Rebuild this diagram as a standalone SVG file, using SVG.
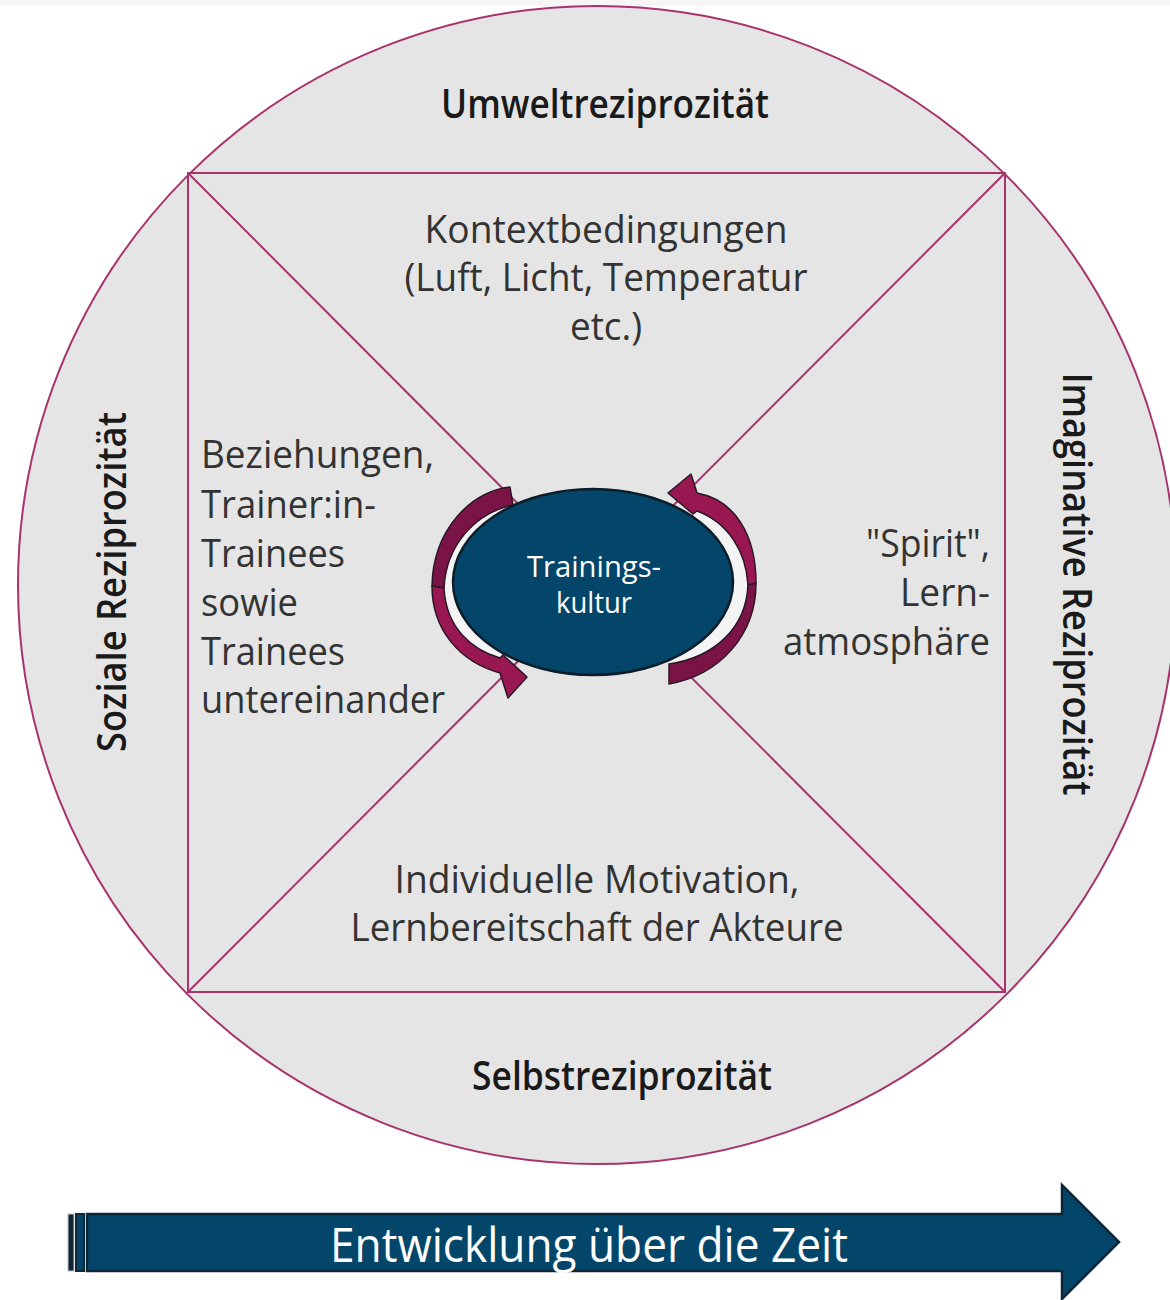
<svg xmlns="http://www.w3.org/2000/svg" width="1170" height="1300" viewBox="0 0 1170 1300">
  <style>
    .ring { fill: #e5e5e5; stroke: #a8336b; stroke-width: 2; }
    .edge { fill: none; stroke: #a8336b; stroke-width: 2; }
    .outer { font-family: "Open Sans", "Noto Sans", "DejaVu Sans", sans-serif; font-weight: 600; font-size: 40px; fill: #1a1a1a; }
    .inner { font-family: "Open Sans", "Noto Sans", "DejaVu Sans", sans-serif; font-weight: 400; font-size: 38px; fill: #333333; }
    .core-text { font-family: "Open Sans", "Noto Sans", "DejaVu Sans", sans-serif; font-weight: 400; font-size: 29px; fill: #ffffff; }
    .time-text { font-family: "Open Sans", "Noto Sans", "DejaVu Sans", sans-serif; font-weight: 400; font-size: 47px; fill: #ffffff; }
    .arc-dark { fill: #7a1346; stroke: #2a1626; stroke-width: 1.5; stroke-linejoin: round; }
    .arc-light { fill: #991852; stroke: #2a1626; stroke-width: 1.5; stroke-linejoin: round; }
    .halo { fill: #f4f4f4; stroke: none; }
    .blue { fill: #03466a; stroke: #0d2739; stroke-width: 2.5; }
  </style>

  <rect x="0" y="0" width="1170" height="1300" fill="#ffffff"/>
  <rect x="0" y="0" width="1170" height="6" fill="#f6f6f6"/>

  <!-- outer circle -->
  <g id="ring">
    <circle class="ring" cx="597" cy="585" r="579"/>
  </g>

  <!-- inner square with its diagonals -->
  <g id="frame">
    <rect class="edge" x="188" y="173" width="817" height="819"/>
    <line class="edge" x1="188" y1="173" x2="1005" y2="992"/>
    <line class="edge" x1="1005" y1="173" x2="188" y2="992"/>
  </g>

  <!-- ring labels -->
  <g id="label-umwelt">
    <text class="outer" x="605" y="118" text-anchor="middle" textLength="328" lengthAdjust="spacingAndGlyphs">Umweltreziprozität</text>
  </g>
  <g id="label-selbst">
    <text class="outer" x="622" y="1090" text-anchor="middle" textLength="300" lengthAdjust="spacingAndGlyphs">Selbstreziprozität</text>
  </g>
  <g id="label-sozial">
    <text class="outer" transform="translate(126,582) rotate(-90)" x="0" y="0" text-anchor="middle" textLength="340" lengthAdjust="spacingAndGlyphs">Soziale Reziprozität</text>
  </g>
  <g id="label-imaginativ">
    <text class="outer" transform="translate(1063,584) rotate(90)" x="0" y="0" text-anchor="middle" textLength="423" lengthAdjust="spacingAndGlyphs">Imaginative Reziprozität</text>
  </g>

  <!-- quadrant texts -->
  <g id="quadrant-top">
    <text class="inner" x="606" y="243" text-anchor="middle" textLength="363" lengthAdjust="spacingAndGlyphs">Kontextbedingungen</text>
    <text class="inner" x="606" y="291" text-anchor="middle" textLength="403" lengthAdjust="spacingAndGlyphs">(Luft, Licht, Temperatur</text>
    <text class="inner" x="606" y="340" text-anchor="middle" textLength="72" lengthAdjust="spacingAndGlyphs">etc.)</text>
  </g>
  <g id="quadrant-left">
    <text class="inner" x="201" y="468" textLength="233" lengthAdjust="spacingAndGlyphs">Beziehungen,</text>
    <text class="inner" x="201" y="518" textLength="175" lengthAdjust="spacingAndGlyphs">Trainer:in-</text>
    <text class="inner" x="201" y="567" textLength="144" lengthAdjust="spacingAndGlyphs">Trainees</text>
    <text class="inner" x="201" y="616" textLength="97" lengthAdjust="spacingAndGlyphs">sowie</text>
    <text class="inner" x="201" y="665" textLength="144" lengthAdjust="spacingAndGlyphs">Trainees</text>
    <text class="inner" x="201" y="713" textLength="244" lengthAdjust="spacingAndGlyphs">untereinander</text>
  </g>
  <g id="quadrant-right">
    <text class="inner" x="990" y="557" text-anchor="end" textLength="124" lengthAdjust="spacingAndGlyphs">"Spirit",</text>
    <text class="inner" x="990" y="606" text-anchor="end" textLength="90" lengthAdjust="spacingAndGlyphs">Lern-</text>
    <text class="inner" x="990" y="655" text-anchor="end" textLength="207" lengthAdjust="spacingAndGlyphs">atmosphäre</text>
  </g>
  <g id="quadrant-bottom">
    <text class="inner" x="597" y="893" text-anchor="middle" textLength="405" lengthAdjust="spacingAndGlyphs">Individuelle Motivation,</text>
    <text class="inner" x="597" y="941" text-anchor="middle" textLength="493" lengthAdjust="spacingAndGlyphs">Lernbereitschaft der Akteure</text>
  </g>

  <!-- circular arrows around the core -->
  <g id="cycle-arrows">
    <!-- light crescents between the arrows and the core -->
    <path class="halo" d="M 513,505 C 472,514 446,548 444,588 C 446,628 472,650 500,658 L 520,560 Z"/>
    <path class="halo" d="M 697,511 C 727,522 746,550 748,585 C 746,627 716,657 669,664 L 660,582 Z"/>
    <!-- left arrow: upper shaded part, lower part with head -->
    <path class="arc-dark" d="M 510,487 C 470,492 433,530 432,586 L 444,588 C 446,548 472,514 513,505 Z"/>
    <path class="arc-light" d="M 432,586 C 432,630 460,662 500,673 L 508,698 L 527,677 L 503,655 L 500,658 C 472,650 446,628 444,588 Z"/>
    <!-- right arrow: lower shaded part, upper part with head -->
    <path class="arc-dark" d="M 756,583 C 756,635 720,675 669,684 L 669,664 C 716,657 746,627 748,585 Z"/>
    <path class="arc-light" d="M 756,583 C 756,535 735,500 697,493 L 691,474 L 668,493 L 693,514 L 697,511 C 727,522 746,550 748,585 Z"/>
  </g>

  <!-- core -->
  <g id="core">
    <ellipse cx="593" cy="582" rx="140" ry="93" fill="#03466a" stroke="#0c1c28" stroke-width="2.5"/>
    <text class="core-text" x="594" y="577" text-anchor="middle" textLength="134" lengthAdjust="spacingAndGlyphs">Trainings-</text>
    <text class="core-text" x="594" y="613" text-anchor="middle" textLength="76" lengthAdjust="spacingAndGlyphs">kultur</text>
  </g>

  <!-- time arrow -->
  <g id="time-arrow">
    <rect x="68" y="1214" width="6" height="57" fill="#0d2739" stroke="#c4c4c4" stroke-width="1"/>
    <rect x="76" y="1214" width="8" height="57" fill="#03466a" stroke="#0d2739" stroke-width="2"/>
    <path class="blue" d="M 87,1214 L 1062,1214 L 1062,1185 L 1119,1242 L 1062,1299 L 1062,1271 L 87,1271 Z"/>
    <text class="time-text" x="589" y="1262" text-anchor="middle" textLength="518" lengthAdjust="spacingAndGlyphs">Entwicklung über die Zeit</text>
  </g>
</svg>
